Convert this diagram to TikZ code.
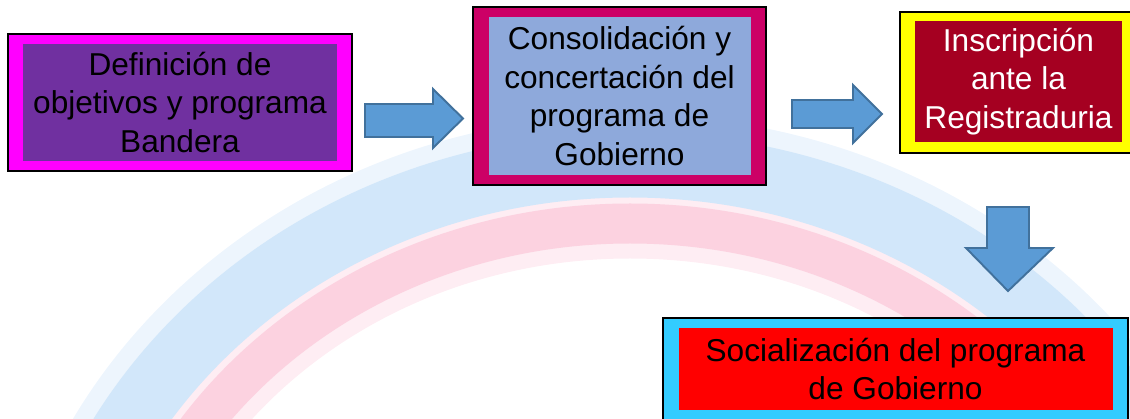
\documentclass[tikz,border=0pt]{standalone}
\usepackage{fontspec}
\setmainfont{Liberation Sans}
\definecolor{magentaB}{RGB}{255,0,255}
\definecolor{purpleF}{RGB}{112,48,160}
\definecolor{crimsonB}{RGB}{204,0,102}
\definecolor{lightblueF}{RGB}{142,169,219}
\definecolor{yellowB}{RGB}{255,255,0}
\definecolor{darkredF}{RGB}{165,0,33}
\definecolor{cyanB}{RGB}{51,204,255}
\definecolor{redF}{RGB}{255,0,0}
\definecolor{arrowFill}{RGB}{91,155,213}
\definecolor{arrowLine}{RGB}{65,113,156}
\definecolor{arcBlue}{RGB}{210,231,250}
\definecolor{arcPink}{RGB}{252,210,224}
\begin{document}
\begin{tikzpicture}[
outer/.style ={rectangle, draw=black, line width=0.6pt, inner sep=0pt},
block/.style ={rectangle, inner sep=0pt, align=center,
  font=\fontsize{18}{22}\selectfont
},
flecha/.style ={draw=arrowLine, line width=1.1pt, fill=arrowFill,
  line join=miter
}]
\useasboundingbox (0,0) rectangle (22.6,-8.38);
% arco de fondo
\begin{scope}
\clip (0,0) rectangle (22.6,-8.38);
\draw[line width=2.0cm, arcBlue!40] (24.3,-14) arc[start angle=0, end angle=180, x radius=11.7, y radius=10.7];
\draw[line width=1.4cm, arcPink!40] (23.1,-14) arc[start angle=0, end angle=180, x radius=10.5, y radius=9.53];
\draw[line width=1.3cm, arcBlue] (24.3,-14) arc[start angle=0, end angle=180, x radius=11.7, y radius=10.7];
\draw[line width=0.8cm, arcPink] (23.1,-14) arc[start angle=0, end angle=180, x radius=10.5, y radius=9.53];
\end{scope}
% cajas
\node (f1) at (3.6,-2.05) [outer, fill=magentaB, minimum width=6.88cm, minimum height=2.74cm] {};
\node (b1) at (f1) [block, fill=purpleF, minimum width=6.28cm, minimum height=2.34cm] {Definición de\\objetivos y programa\\Bandera};
\node (f2) at (12.39,-1.92) [outer, fill=crimsonB, minimum width=5.86cm, minimum height=3.56cm] {};
\node (b2) at (f2) [block, fill=lightblueF, minimum width=5.24cm, minimum height=3.16cm] {Consolidación y\\concertación del\\programa de\\Gobierno};
\node (f3) at (20.37,-1.65) [outer, fill=yellowB, minimum width=4.74cm, minimum height=2.82cm] {};
\node (b3) at (20.37,-1.63) [block, fill=darkredF, text=white, minimum width=4.14cm, minimum height=2.42cm] {Inscripción\\ante la\\Registraduria};
\node (f4) at (17.91,-7.38) [outer, fill=cyanB, minimum width=9.3cm, minimum height=2.04cm] {};
\node (b4) at (f4) [block, fill=redF, minimum width=8.68cm, minimum height=1.64cm] {Socialización del programa\\de Gobierno};
% flechas
\draw[flecha] (7.3,-2.08) -- (8.66,-2.08) -- (8.66,-1.78) -- (9.26,-2.37) -- (8.66,-2.96) -- (8.66,-2.74) -- (7.3,-2.74) -- cycle;
\draw[flecha] (15.84,-2.0) -- (17.06,-2.0) -- (17.06,-1.7) -- (17.64,-2.28) -- (17.06,-2.86) -- (17.06,-2.56) -- (15.84,-2.56) -- cycle;
\draw[flecha] (19.74,-4.14) -- (20.58,-4.14) -- (20.58,-4.96) -- (21.06,-4.96) -- (20.16,-5.82) -- (19.32,-4.96) -- (19.74,-4.96) -- cycle;
\end{tikzpicture}
\end{document}
